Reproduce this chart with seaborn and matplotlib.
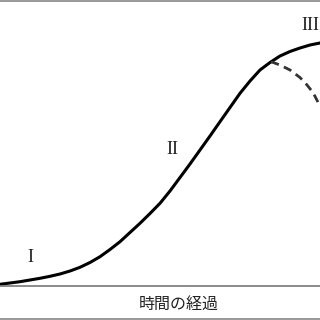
import matplotlib
matplotlib.use("Agg")
import matplotlib.pyplot as plt
from matplotlib.lines import Line2D
import seaborn as sns
import pandas as pd

# Main growth curve (time vs. population)
time_main = [0, 10, 20, 30, 40, 50, 60, 70, 80, 90, 100, 110, 120, 130, 140, 150, 160,
             170, 180, 190, 200, 210, 220, 230, 240, 250, 260, 270, 280, 290, 300, 310, 320]
value_main = [1.7, 3.0, 4.3, 6.0, 7.7, 9.7, 12.0, 15.0, 18.7, 23.5, 29.3, 36.5, 44.3, 53.5,
              62.7, 72.5, 82.7, 95.0, 108.5, 122.0, 136.0, 150.0, 164.3, 178.5, 192.7, 205.0,
              216.0, 223.5, 230.0, 234.5, 238.0, 241.0, 243.0]

# Dashed decline branch
time_decline = [271, 280, 290, 300, 307, 313, 320]
value_decline = [224.3, 221.0, 216.0, 208.5, 201.0, 193.5, 180.0]

phase_labels = ["I", "II", "III"]
phase_x = [30, 172, 310]
phase_y = [28, 136, 260]

xlabel = "時間の経過"

sns.set_style("white")
plt.rcParams['font.family'] = ['Noto Sans CJK JP', 'DejaVu Sans']

fig = plt.figure(figsize=(3.2, 3.2), dpi=100)
ax = fig.add_axes([0, 34/320, 1, 286/320])

df_main = pd.DataFrame({"t": time_main, "v": value_main})
df_dec = pd.DataFrame({"t": time_decline, "v": value_decline})

sns.lineplot(data=df_main, x="t", y="v", ax=ax, color="black", linewidth=2.2, sort=True,
             solid_capstyle="round", solid_joinstyle="round")
sns.lineplot(data=df_dec, x="t", y="v", ax=ax, color="#333333", linewidth=2.0,
             linestyle=(0, (3, 2)))

for lab, x, y in zip(phase_labels, phase_x, phase_y):
    ax.text(x, y, lab, ha="center", va="center", fontsize=13,
            family=["Liberation Serif", "DejaVu Serif"], color="#222222")

ax.set_xlim(0, 320)
ax.set_ylim(0, 286)
ax.set_xlabel("")
ax.set_ylabel("")
ax.set_xticks([])
ax.set_yticks([])
for s in ["top", "left", "right"]:
    ax.spines[s].set_visible(False)
ax.spines["bottom"].set_color("#777777")
ax.spines["bottom"].set_linewidth(1.2)
ax.patch.set_alpha(0)

fig.text(179/320, 1 - 305/320, xlabel, ha="center", va="center", fontsize=11.5, color="#222222")

fig.add_artist(Line2D([0, 1], [1 - 0.5/320, 1 - 0.5/320], transform=fig.transFigure,
                      color="#888888", linewidth=1.2))
fig.add_artist(Line2D([0, 1], [1.0/320, 1.0/320], transform=fig.transFigure,
                      color="#888888", linewidth=1.2))

fig.savefig("out.png", dpi=100)
